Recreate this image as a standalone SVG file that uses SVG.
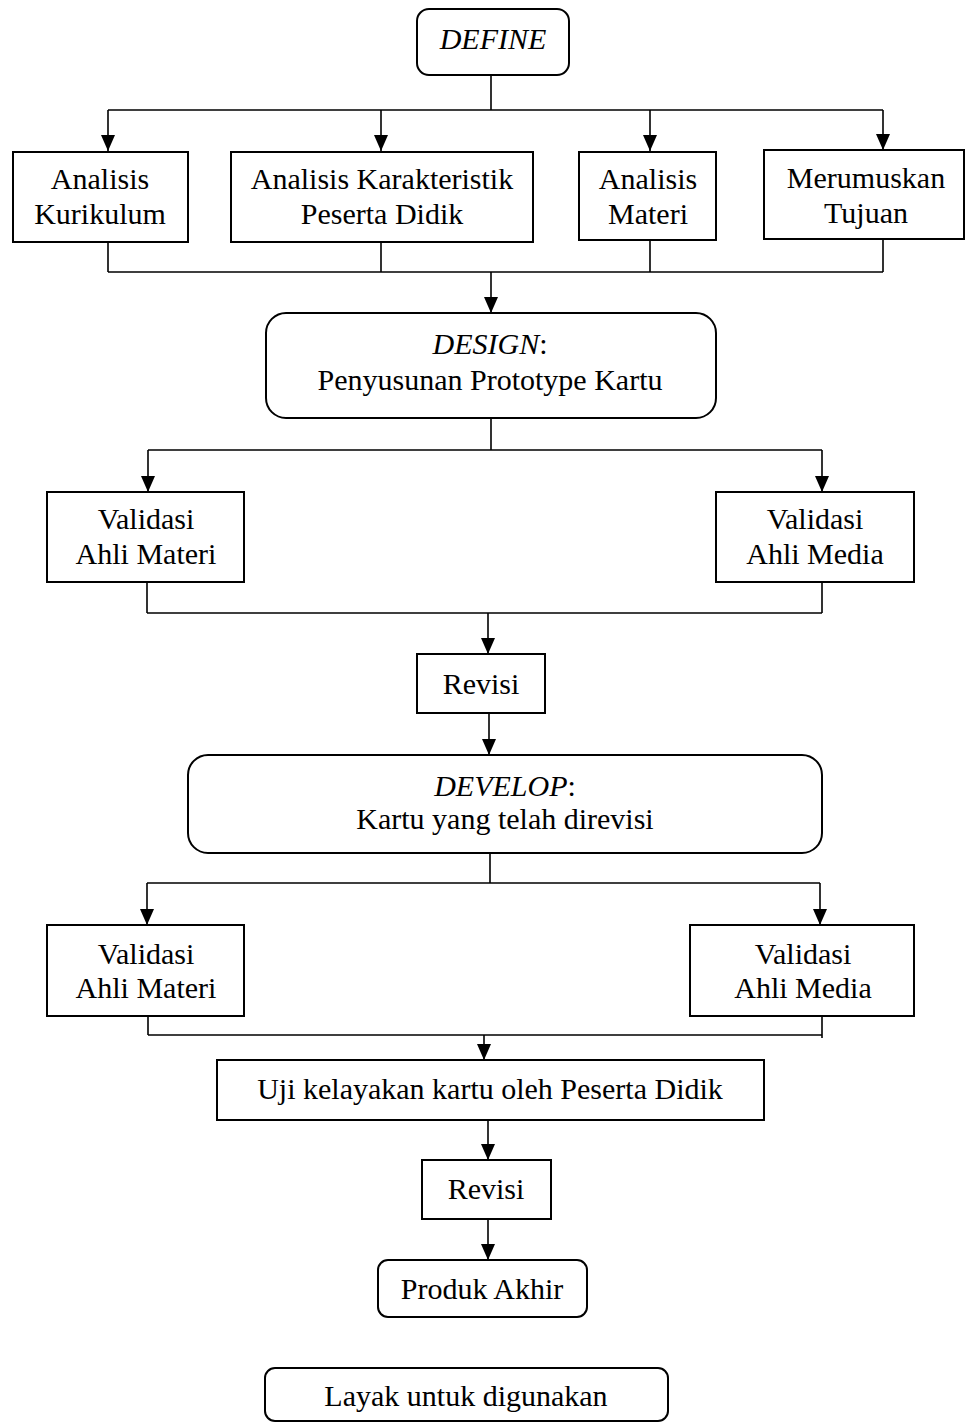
<svg xmlns="http://www.w3.org/2000/svg" width="965" height="1423" viewBox="0 0 965 1423">
<defs>
<marker id="ah" markerWidth="16" markerHeight="14" refX="16" refY="7" orient="auto" markerUnits="userSpaceOnUse" viewBox="0 0 16 14">
<path d="M0,0 L16,7 L0,14 Z" fill="#000"/>
</marker>
<style>
.box{fill:#fff;stroke:#000;stroke-width:2}
.t{font-family:"Liberation Serif","Times New Roman",serif;font-size:30px;fill:#000;text-anchor:middle}
.i{font-style:italic}
.c{fill:none;stroke:#000;stroke-width:1.6}
</style>
</defs>
<rect width="965" height="1423" fill="#fff"/>
<g id="connectors">
<path class="c" d="M491,75 V110 M108,110 H883"/>
<path class="c" d="M108,110 V151" marker-end="url(#ah)"/>
<path class="c" d="M381,110 V151" marker-end="url(#ah)"/>
<path class="c" d="M650,110 V151" marker-end="url(#ah)"/>
<path class="c" d="M883,110 V150" marker-end="url(#ah)"/>
<path class="c" d="M108,240 V272 M381,240 V272 M650,240 V272 M883,239 V272 M108,272 H883"/>
<path class="c" d="M491,272 V313" marker-end="url(#ah)"/>
<path class="c" d="M491,418 V450 M148,450 H822"/>
<path class="c" d="M148,450 V492" marker-end="url(#ah)"/>
<path class="c" d="M822,450 V492" marker-end="url(#ah)"/>
<path class="c" d="M147,582 V613 M822,582 V613 M147,613 H822"/>
<path class="c" d="M488,613 V654" marker-end="url(#ah)"/>
<path class="c" d="M489,713 V755" marker-end="url(#ah)"/>
<path class="c" d="M490,853 V883 M147,883 H820"/>
<path class="c" d="M147,883 V925" marker-end="url(#ah)"/>
<path class="c" d="M820,883 V925" marker-end="url(#ah)"/>
<path class="c" d="M148,1010 V1035 M822,1010 V1038 M148,1035 H822"/>
<path class="c" d="M484,1035 V1060" marker-end="url(#ah)"/>
<path class="c" d="M488,1120 V1160" marker-end="url(#ah)"/>
<path class="c" d="M488,1219 V1260" marker-end="url(#ah)"/>
</g>
<g id="define"><rect class="box" x="417" y="9" width="152" height="66" rx="12"/><text class="t i" x="493" y="49">DEFINE</text></g>
<g id="kurikulum"><rect class="box" x="13" y="152" width="175" height="90"/><text class="t" x="100" y="189">Analisis</text><text class="t" x="100" y="224">Kurikulum</text></g>
<g id="karakteristik"><rect class="box" x="231" y="152" width="302" height="90"/><text class="t" x="382" y="189">Analisis Karakteristik</text><text class="t" x="382" y="224">Peserta Didik</text></g>
<g id="materi"><rect class="box" x="579" y="152" width="137" height="88"/><text class="t" x="648" y="189">Analisis</text><text class="t" x="648" y="224">Materi</text></g>
<g id="tujuan"><rect class="box" x="764" y="150" width="200" height="89"/><text class="t" x="866" y="188">Merumuskan</text><text class="t" x="866" y="223">Tujuan</text></g>
<g id="design"><rect class="box" x="266" y="313" width="450" height="105" rx="20"/><text class="t" x="490" y="354"><tspan class="i">DESIGN</tspan>:</text><text class="t" x="490" y="390">Penyusunan Prototype Kartu</text></g>
<g id="val-materi-1"><rect class="box" x="47" y="492" width="197" height="90"/><text class="t" x="146" y="529">Validasi</text><text class="t" x="146" y="564">Ahli Materi</text></g>
<g id="val-media-1"><rect class="box" x="716" y="492" width="198" height="90"/><text class="t" x="815" y="529">Validasi</text><text class="t" x="815" y="564">Ahli Media</text></g>
<g id="revisi-1"><rect class="box" x="417" y="654" width="128" height="59"/><text class="t" x="481" y="694">Revisi</text></g>
<g id="develop"><rect class="box" x="188" y="755" width="634" height="98" rx="20"/><text class="t" x="505" y="796"><tspan class="i">DEVELOP</tspan>:</text><text class="t" x="505" y="829">Kartu yang telah direvisi</text></g>
<g id="val-materi-2"><rect class="box" x="47" y="925" width="197" height="91"/><text class="t" x="146" y="964">Validasi</text><text class="t" x="146" y="998">Ahli Materi</text></g>
<g id="val-media-2"><rect class="box" x="690" y="925" width="224" height="91"/><text class="t" x="803" y="964">Validasi</text><text class="t" x="803" y="998">Ahli Media</text></g>
<g id="uji"><rect class="box" x="217" y="1060" width="547" height="60"/><text class="t" x="490" y="1099">Uji kelayakan kartu oleh Peserta Didik</text></g>
<g id="revisi-2"><rect class="box" x="422" y="1160" width="129" height="59"/><text class="t" x="486" y="1199">Revisi</text></g>
<g id="produk"><rect class="box" x="378" y="1260" width="209" height="57" rx="10"/><text class="t" x="482" y="1299">Produk Akhir</text></g>
<g id="layak"><rect class="box" x="265" y="1368" width="403" height="53" rx="10"/><text class="t" x="466" y="1406">Layak untuk digunakan</text></g>
</svg>
